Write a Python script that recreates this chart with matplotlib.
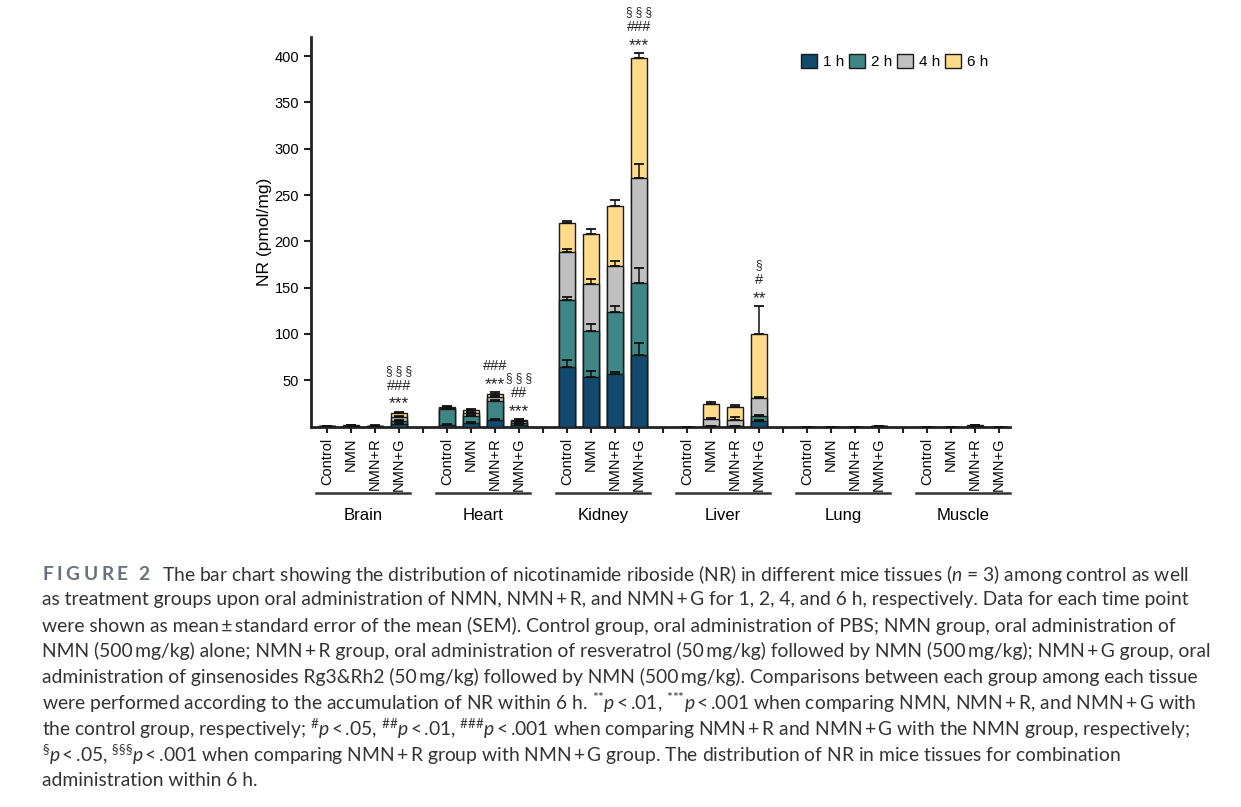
"""
Stacked bar chart of NR accumulation in mice tissues (figure 2 with caption)
"""

import matplotlib
matplotlib.use('Agg')
import matplotlib.pyplot as plt
import matplotlib.transforms as mtransforms
from matplotlib.patches import Patch

plt.rcParams['font.family'] = ['Liberation Sans', 'DejaVu Sans']
plt.rcParams['mathtext.fontset'] = 'custom'
plt.rcParams['mathtext.rm'] = 'Lato'
plt.rcParams['mathtext.it'] = 'Lato:italic'
plt.rcParams['mathtext.bf'] = 'Lato:bold'

tissues = ['Brain', 'Heart', 'Kidney', 'Liver', 'Lung', 'Muscle']
groups = ['Control', 'NMN', 'NMN+R', 'NMN+G']
times = ['1 h', '2 h', '4 h', '6 h']
colors = ['#124a6d', '#3e8786', '#c0c0c0', '#fedb8a']

# cumulative NR level at each time point, one list per tissue (Control, NMN, NMN+R, NMN+G)
nr_1h = {
    'Brain':  [0.2, 0.3, 0.3, 3.0],
    'Heart':  [2.0, 4.0, 6.8, 2.0],
    'Kidney': [64.6, 53.9, 56.8, 76.9],
    'Liver':  [0.0, 0.3, 0.3, 6.4],
    'Lung':   [0.0, 0.0, 0.0, 0.2],
    'Muscle': [0.0, 0.0, 0.3, 0.0],
}
nr_2h = {
    'Brain':  [0.3, 0.5, 0.5, 6.5],
    'Heart':  [19.0, 11.4, 28.0, 4.0],
    'Kidney': [136.6, 103.2, 124.0, 155.3],
    'Liver':  [0.0, 0.6, 0.6, 11.1],
    'Lung':   [0.0, 0.0, 0.0, 0.3],
    'Muscle': [0.0, 0.0, 0.5, 0.0],
}
nr_4h = {
    'Brain':  [0.4, 0.8, 0.8, 10.0],
    'Heart':  [20.5, 15.0, 31.5, 6.0],
    'Kidney': [188.8, 153.6, 173.7, 268.0],
    'Liver':  [0.0, 7.8, 6.8, 30.5],
    'Lung':   [0.0, 0.0, 0.0, 0.5],
    'Muscle': [0.0, 0.0, 0.8, 0.0],
}
nr_6h = {
    'Brain':  [0.5, 1.2, 1.0, 14.3],
    'Heart':  [21.5, 18.3, 35.0, 7.5],
    'Kidney': [220.0, 207.5, 237.7, 398.5],
    'Liver':  [0.0, 24.7, 21.1, 100.0],
    'Lung':   [0.0, 0.0, 0.0, 0.8],
    'Muscle': [0.0, 0.0, 1.2, 0.0],
}
# SEM (upper half only is drawn)
sem_1h = {
    'Brain':  [0, 0, 0, 1.0],
    'Heart':  [0.5, 0.8, 1.0, 0.5],
    'Kidney': [7.0, 6.5, 1.8, 12.9],
    'Liver':  [0, 0, 0, 1.0],
    'Lung':   [0, 0, 0, 0],
    'Muscle': [0, 0, 0, 0],
}
sem_2h = {
    'Brain':  [0, 0, 0, 1.0],
    'Heart':  [1.0, 1.0, 1.0, 0.8],
    'Kidney': [3.0, 7.5, 5.7, 15.5],
    'Liver':  [0, 0, 0, 1.8],
    'Lung':   [0, 0, 0, 0],
    'Muscle': [0, 0, 0, 0],
}
sem_4h = {
    'Brain':  [0, 0, 0, 1.0],
    'Heart':  [0.8, 1.0, 1.5, 0.8],
    'Kidney': [3.0, 5.4, 4.7, 15.5],
    'Liver':  [0, 1.0, 3.2, 1.4],
    'Lung':   [0, 0, 0, 0],
    'Muscle': [0, 0, 0, 0],
}
sem_6h = {
    'Brain':  [0, 0.3, 0.3, 2.0],
    'Heart':  [0.8, 1.0, 2.8, 1.0],
    'Kidney': [2.5, 6.1, 7.5, 5.0],
    'Liver':  [0, 1.8, 2.5, 30.5],
    'Lung':   [0, 0, 0, 0.3],
    'Muscle': [0, 0, 0.3, 0],
}

# significance marks: (tissue, group index, lines from bottom to top)
marks = [
    ('Brain', 3, ['***', '###', '§ § §']),
    ('Heart', 2, ['***', '###']),
    ('Heart', 3, ['***', '##', '§ § §']),
    ('Kidney', 3, ['***', '###', '§ § §']),
    ('Liver', 3, ['**', '#', '§']),
]

ts = '\u2009'
caption = [
    'The bar chart showing the distribution of nicotinamide riboside (NR) in different mice tissues ($n$ = 3) among control as well',
    f'as treatment groups upon oral administration of NMN, NMN{ts}+{ts}R, and NMN{ts}+{ts}G for 1, 2, 4, and 6 h, respectively. Data for each time point',
    f'were shown as mean{ts}\u00b1{ts}standard error of the mean (SEM). Control group, oral administration of PBS; NMN group, oral administration of',
    f'NMN (500{ts}mg/kg) alone; NMN{ts}+{ts}R group, oral administration of resveratrol (50{ts}mg/kg) followed by NMN (500{ts}mg/kg); NMN{ts}+{ts}G group, oral',
    f'administration of ginsenosides Rg3&Rh2 (50{ts}mg/kg) followed by NMN (500{ts}mg/kg). Comparisons between each group among each tissue',
    r'were performed according to the accumulation of NR within 6 h. $^{{*}{*}}p$' + f'{ts}<{ts}.01, ' + r'$^{{*}{*}{*}}p$' + f'{ts}<{ts}.001 when comparing NMN, NMN{ts}+{ts}R, and NMN{ts}+{ts}G with',
    r'the control group, respectively; $^{\#}p$' + f'{ts}<{ts}.05, ' + r'$^{\#\#}p$' + f'{ts}<{ts}.01, ' + r'$^{\#\#\#}p$' + f'{ts}<{ts}.001 when comparing NMN{ts}+{ts}R and NMN{ts}+{ts}G with the NMN group, respectively;',
    r'$^{\S}p$' + f'{ts}<{ts}.05, ' + r'$^{\S\S\S}p$' + f'{ts}<{ts}.001 when comparing NMN{ts}+{ts}R group with NMN{ts}+{ts}G group. The distribution of NR in mice tissues for combination',
    'administration within 6 h.',
]

W, H = 1241, 807
fig = plt.figure(figsize=(W / 100, H / 100), dpi=100)
ax = fig.add_axes([311 / W, 1 - 426.6 / H, (1010 - 311) / W, (426.6 - 36.7) / H])

levels = [nr_1h, nr_2h, nr_4h, nr_6h]
sems = [sem_1h, sem_2h, sem_4h, sem_6h]
width = 0.64

for g, tissue in enumerate(tissues):
    xs = [g * 5 + b for b in range(len(groups))]
    # draw from the latest (tallest) level to the earliest so all stay visible
    for t in range(len(times) - 1, -1, -1):
        vals = levels[t][tissue]
        ax.bar(xs, vals, width=width, color=colors[t], edgecolor='#1a1a1a',
               linewidth=1.0, zorder=2 + (3 - t))
        ax.errorbar(xs, vals, yerr=[[0] * 4, sems[t][tissue]], fmt='none',
                    ecolor='#111111', elinewidth=1.1, capsize=3.5,
                    capthick=1.3, zorder=7)

# significance text
for tissue, gi, lines in marks:
    g = tissues.index(tissue)
    x = g * 5 + gi
    top = nr_6h[tissue][gi] + sem_6h[tissue][gi]
    for k, s in enumerate(lines):
        if '*' in s:
            fs, dy = 12.5, 8   # asterisks sit high in the glyph box
        elif '§' in s:
            fs, dy = 8.5, 11
        else:
            fs, dy = 10.5, 11
        ax.text(x, top + dy + k * 16.5, s, ha='center', va='center',
                fontsize=fs, color='#222222', zorder=8)

ax.set_xlim(-0.667, 28.46)
ax.set_ylim(0, 421)
ax.set_yticks([50, 100, 150, 200, 250, 300, 350, 400])
ax.tick_params(axis='y', labelsize=10.5, length=5, width=1.5, direction='out',
               color='#222222')

all_ticks = list(range(29))
tick_labels = []
for p in all_ticks:
    tick_labels.append(groups[p % 5] if p % 5 < 4 else '')
ax.set_xticks(all_ticks)
ax.set_xticklabels(tick_labels, rotation=90, fontsize=10.5)
ax.tick_params(axis='x', length=4, width=1.5, direction='out', pad=4,
               color='#222222')

for side in ['top', 'right']:
    ax.spines[side].set_visible(False)
for side in ['left', 'bottom']:
    ax.spines[side].set_linewidth(2)
    ax.spines[side].set_color('#222222')

ax.set_ylabel('NR (pmol/mg)', fontsize=12.5, labelpad=2)

# tissue labels with underline
trans = mtransforms.blended_transform_factory(ax.transData, ax.transAxes)
for g, tissue in enumerate(tissues):
    x0 = g * 5 - 0.46
    x1 = g * 5 + 3 + 0.46
    ax.plot([x0, x1], [-0.170, -0.170], color='#333333', linewidth=1.8,
            transform=trans, clip_on=False)
    ax.text(g * 5 + 1.5, -0.228, tissue, transform=trans, ha='center',
            va='center', fontsize=12)

handles = [Patch(facecolor=c, edgecolor='#1a1a1a', linewidth=1.0) for c in colors]
ax.legend(handles, times, loc='upper right', bbox_to_anchor=(994 / W, 1 - 48 / H),
          bbox_transform=fig.transFigure, ncol=4, frameon=False, fontsize=11,
          handlelength=1.0, handleheight=1.0, handletextpad=0.4,
          columnspacing=0.35, borderaxespad=0)

# caption: spaced-out "FIGURE 2" label, then the text lines
renderer = fig.canvas.get_renderer()
xpix = 42.0
for ch in 'FIGURE 2':
    if ch == ' ':
        xpix += 7.0
        continue
    t = fig.text(xpix / W, 1 - 574 / H, ch, family=['Lato', 'DejaVu Sans'],
                 fontsize=13.8, fontweight='bold', color='#69717a', va='center')
    xpix += t.get_window_extent(renderer).width + 3.6

for i, line in enumerate(caption):
    x = 162 if i == 0 else 42
    fig.text(x / W, 1 - (574 + i * 25.8) / H, line,
             family=['Lato', 'DejaVu Sans'], fontsize=13.85, color='#333333',
             va='center')

plt.savefig('out.png', dpi=100)
